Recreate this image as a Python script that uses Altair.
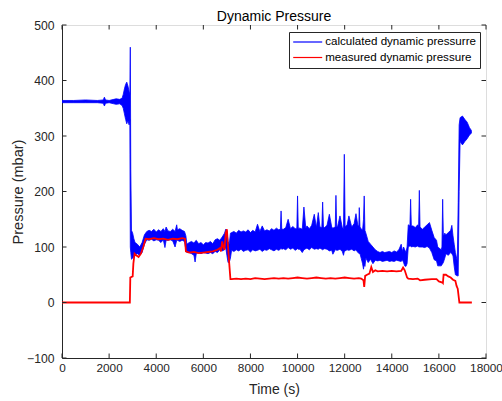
import altair as alt
import pandas as pd

# ---- calculated dynamic pressure: lower / upper envelope of the noisy trace ----
calc_t = [0, 500, 1000, 1500, 1750, 1800, 1850, 2000, 2200, 2300,
          2450, 2550, 2600, 2650, 2700, 2750, 2800, 2850, 2880, 2900,
          2920, 2950, 3000, 3050, 3100, 3200, 3300, 3400, 3500, 3600,
          3700, 3800, 3900, 4000, 4100, 4200, 4300, 4370, 4420, 4500,
          4600, 4700, 4800, 4870, 4900, 5000, 5100, 5200, 5260, 5300,
          5400, 5500, 5600, 5650, 5700, 5800, 5900, 6000, 6100, 6200,
          6300, 6400, 6500, 6600, 6700, 6800, 6900, 6950, 7000, 7050,
          7100, 7150, 7200, 7300, 7400, 7500, 7600, 7700, 7800, 7900,
          8000, 8100, 8200, 8300, 8400, 8500, 8600, 8700, 8800, 8900,
          9000, 9100, 9200, 9270, 9300, 9330, 9400, 9500, 9600, 9700,
          9800, 9900, 9970, 10000, 10030, 10100, 10200, 10270, 10350, 10400,
          10500, 10600, 10710, 10800, 10880, 10950, 11030, 11065, 11100, 11150,
          11250, 11350, 11450, 11500, 11600, 11630, 11660, 11700, 11800, 11900,
          11950, 11985, 12020, 12100, 12180, 12300, 12400, 12480, 12560, 12600,
          12620, 12650, 12700, 12760, 12800, 12830, 12860, 12900, 13000, 13100,
          13200, 13300, 13400, 13500, 13600, 13700, 13800, 13900, 14000, 14100,
          14200, 14300, 14400, 14450, 14500, 14550, 14600, 14650, 14700, 14770,
          14800, 14830, 14900, 15000, 15100, 15140, 15170, 15200, 15300, 15400,
          15500, 15600, 15700, 15800, 15900, 15950, 16100, 16130, 16160, 16190,
          16250, 16300, 16400, 16500, 16550, 16600, 16650, 16700, 16780, 16820,
          16860, 16900, 17000, 17100, 17200, 17300, 17380]
calc_lo = [360, 360, 360, 360, 359, 354, 359, 360, 358, 357,
           358, 355, 350, 340, 330, 322, 328, 320, 330, 100,
           90, 78, 80, 82, 86, 88, 85, 90, 105, 113,
           112, 114, 111, 113, 112, 108, 113, 99, 112, 112,
           113, 111, 100, 112, 112, 110, 112, 110, 95, 90,
           90, 88, 85, 73, 88, 90, 88, 90, 89, 88,
           90, 88, 92, 90, 95, 93, 95, 100, 85, 72,
           72, 80, 94, 92, 95, 93, 96, 92, 94, 95,
           91, 95, 93, 94, 96, 92, 95, 94, 97, 95,
           93, 96, 94, 96, 98, 96, 97, 95, 99, 96,
           98, 94, 96, 97, 96, 96, 90, 95, 97, 98,
           95, 99, 96, 97, 96, 98, 96, 95, 96, 97,
           96, 93, 94, 87, 95, 95, 94, 94, 96, 92,
           85, 92, 93, 95, 94, 96, 93, 95, 90, 89,
           88, 88, 80, 70, 60, 70, 65, 80, 72, 78,
           70, 76, 75, 76, 74, 75, 76, 74, 75, 74,
           76, 75, 74, 77, 72, 66, 65, 70, 100, 102,
           102, 100, 101, 100, 102, 100, 100, 100, 100, 99,
           101, 98, 90, 77, 75, 66, 66, 68, 70, 72,
           80, 88, 85, 90, 88, 84, 65, 50, 48, 48,
           200, 290, 284, 290, 295, 302, 305]
calc_hi = [364, 364, 365, 364, 365, 370, 365, 364, 366, 367,
           366, 368, 375, 385, 393, 397, 390, 380, 375, 460,
           240, 130, 125, 115, 108, 105, 100, 108, 122, 128,
           130, 128, 132, 127, 131, 128, 133, 128, 136, 129,
           128, 132, 128, 140, 131, 133, 130, 128, 120, 105,
           108, 110, 107, 110, 112, 106, 108, 104, 108, 107,
           110, 106, 113, 115, 112, 118, 125, 132, 128, 110,
           105, 125, 126, 128, 125, 130, 127, 129, 127, 131,
           126, 130, 127, 141, 128, 138, 129, 131, 129, 133,
           130, 134, 131, 132, 165, 132, 132, 135, 150, 133,
           137, 133, 134, 192, 134, 134, 132, 172, 134, 138,
           133, 139, 159, 135, 162, 136, 135, 181, 136, 135,
           139, 159, 136, 134, 136, 193, 137, 137, 156, 135,
           133, 267, 137, 139, 156, 136, 142, 160, 139, 138,
           171, 136, 133, 130, 150, 192, 130, 125, 110, 105,
           100, 95, 92, 90, 92, 90, 91, 92, 90, 93,
           91, 95, 105, 92, 100, 95, 90, 100, 140, 138,
           186, 138, 138, 135, 140, 137, 202, 136, 132, 136,
           140, 144, 130, 117, 112, 100, 95, 100, 186, 120,
           125, 122, 126, 130, 139, 120, 105, 90, 75, 180,
           320, 333, 336, 330, 325, 315, 310]

# ---- measured dynamic pressure ----
meas_t = [0, 2880, 2900, 3000, 3030, 3080, 3150, 3250, 3350, 3450, 3550, 3700, 3900, 4100,
          4300, 4500, 4700, 4900, 5100, 5220, 5260, 5400, 5600, 5800, 6000, 6200, 6400, 6600,
          6700, 6750, 6800, 6850, 6900, 6950, 7000, 7050, 7100, 7150, 7200, 7400, 7600, 7800,
          8000, 8200, 8400, 8600, 8800, 9000, 9200, 9400, 9600, 9800, 10000, 10200, 10400,
          10600, 10800, 11000, 11200, 11400, 11600, 11800, 12000, 12200, 12400, 12600, 12700,
          12800, 12830, 12870, 12950, 13050, 13130, 13200, 13300, 13400, 13600, 13800, 14000,
          14200, 14400, 14480, 14550, 14650, 14700, 14900, 15100, 15200, 15400, 15700, 15900,
          16000, 16150, 16170, 16200, 16300, 16400, 16500, 16600, 16700, 16750, 16800, 16870,
          17400]
meas_v = [0, 0, 45, 47, 70, 88, 85, 82, 88, 100, 115, 114, 116, 114,
          115, 113, 115, 114, 116, 115, 92, 90, 91, 89, 90, 91, 92, 95,
          98, 92, 110, 100, 95, 125, 132, 100, 70, 42, 42, 43, 42, 43,
          42, 44, 43, 42, 43, 44, 43, 44, 43, 44, 45, 44, 43,
          44, 45, 44, 43, 44, 43, 44, 45, 44, 43, 44, 43,
          40, 28, 48, 50, 52, 64, 55, 58, 56, 57, 56, 57,
          56, 57, 63, 58, 45, 43, 42, 43, 40, 41, 42, 42,
          38, 36, 35, 50, 50, 47, 45, 41, 39, 30, 25, 0,
          0]

series_names = ["calculated dynamic pressurre", "measured dynamic pressure"]
series_colors = ["#0000FF", "#FF0000"]
x_ticks = [0, 2000, 4000, 6000, 8000, 10000, 12000, 14000, 16000, 18000]
y_ticks = [-100, 0, 100, 200, 300, 400, 500]

W, H = 424, 333
FONT = "Liberation Sans"
AX = "#262626"

calc_df = pd.DataFrame({"t": calc_t, "lo": calc_lo, "hi": calc_hi})
meas_df = pd.DataFrame({"t": meas_t, "lo": meas_v, "series": series_names[1]})
xt_df = pd.DataFrame({"t": x_ticks})
yt_df = pd.DataFrame({"lo": y_ticks})

xs = alt.Scale(domain=[0, 18000], nice=False, zero=False)
ys = alt.Scale(domain=[-100, 500], nice=False, zero=False)
x_axis = alt.Axis(values=x_ticks, format="d", ticks=False, labelPadding=4, titlePadding=9,
                  domainColor=AX, labelColor=AX, titleColor=AX, labelFontSize=11.8,
                  titleFontSize=14, titleFontWeight="normal", labelFont=FONT, titleFont=FONT,
                  grid=False, labelFlush=False)
y_axis = alt.Axis(values=y_ticks, format="d", ticks=False, labelPadding=8, titlePadding=1,
                  domainColor=AX, labelColor=AX, titleColor=AX, labelFontSize=12.2,
                  titleFontSize=14.5, titleFontWeight="normal", labelFont=FONT, titleFont=FONT,
                  grid=False, labelFlush=False)
X = alt.X("t:Q", scale=xs, axis=x_axis, title="Time (s)")
Y = alt.Y("lo:Q", scale=ys, axis=y_axis, title="Pressure (mbar)")

cscale = alt.Scale(domain=series_names, range=series_colors)
legend = alt.Legend(title=None, orient="none", legendX=227, legendY=7,
                    symbolType="M-2.9,0H2.9", symbolSize=100, symbolStrokeWidth=1.2,
                    symbolOffset=8.7, labelOffset=11.5,
                    labelFont=FONT, labelFontSize=11.6, labelColor="#000000",
                    strokeColor=AX, fillColor="white", padding=4, rowPadding=3.5)

calc = alt.Chart(calc_df).mark_area(fill="#0000FF", stroke="#0000FF", strokeWidth=0.8,
                                    fillOpacity=1, clip=True).encode(
    x=X, y=Y, y2="hi:Q",
)
meas = alt.Chart(meas_df).mark_line(strokeWidth=1.8, clip=True).encode(
    x=X, y=Y,
    color=alt.Color("series:N", scale=cscale, legend=legend),
)

TL = 4.5
xt_bot = alt.Chart(xt_df).mark_rule(color=AX, strokeWidth=1).encode(
    x=X, y=alt.value(H), y2=alt.value(H - TL))
xt_top = alt.Chart(xt_df).mark_rule(color=AX, strokeWidth=1).encode(
    x=X, y=alt.value(0), y2=alt.value(TL))
yt_left = alt.Chart(yt_df).mark_rule(color=AX, strokeWidth=1).encode(
    y=Y, x=alt.value(0), x2=alt.value(TL))
yt_right = alt.Chart(yt_df).mark_rule(color=AX, strokeWidth=1).encode(
    y=Y, x=alt.value(W), x2=alt.value(W - TL))

chart = alt.layer(calc, meas, xt_bot, xt_top, yt_left, yt_right).properties(
    width=W, height=H,
    title=alt.TitleParams("Dynamic Pressure", fontSize=14, font=FONT, fontWeight="normal",
                          color="#000000", offset=4, dy=9),
    autosize=alt.AutoSizeParams(type="none"),
    padding={"left": 62, "top": 25, "right": 16, "bottom": 43},
).configure_view(stroke=AX, strokeWidth=1).configure(background="white")

chart.save("out.html", embed_options={"renderer": "svg", "actions": False})
